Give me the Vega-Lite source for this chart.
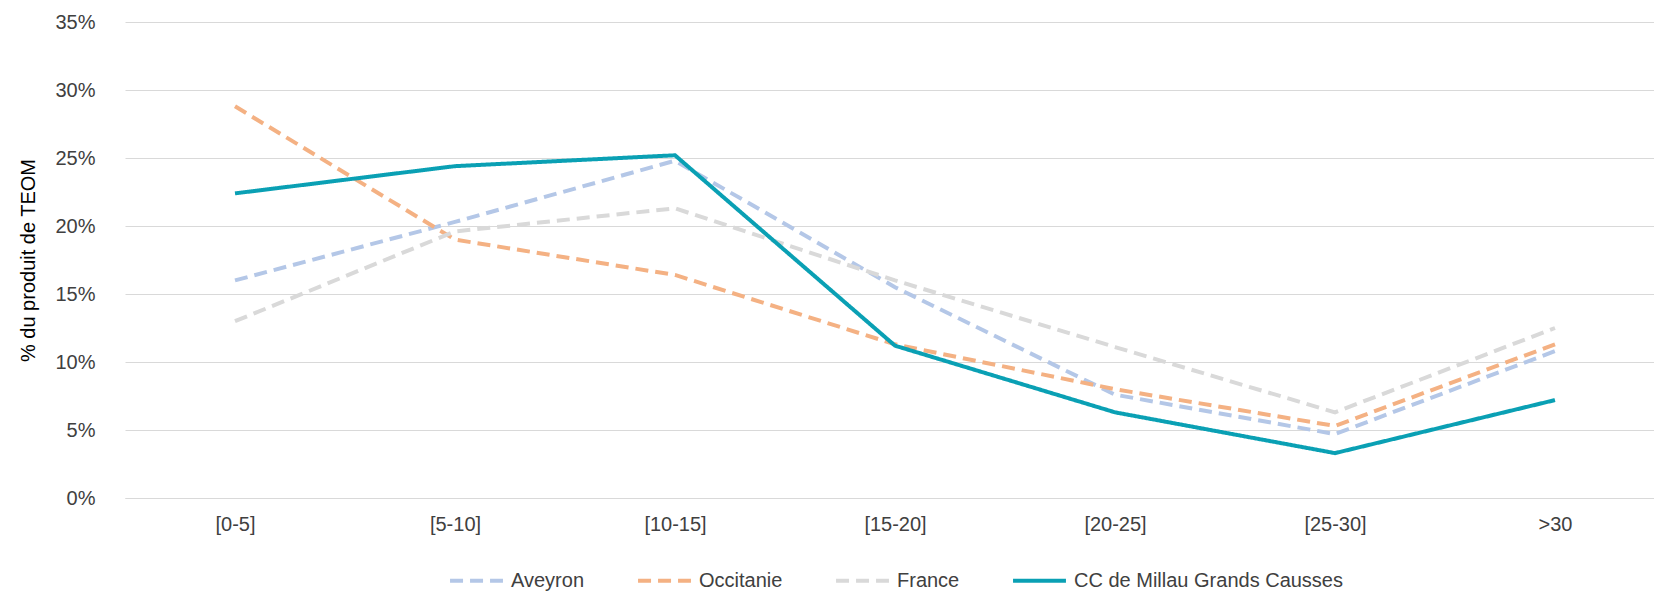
{
"$schema":"https://vega.github.io/schema/vega-lite/v6.json",
"width":1540,"height":476,
"padding":{"left":18,"right":0,"top":12,"bottom":4},
"config":{"font":"Liberation Sans","view":{"stroke":null},"legend":{"layout":{"bottom":{"anchor":"middle"}}}},
"data":{"values":[
{"c":"[0-5]","s":"Aveyron","v":16.0},{"c":"[5-10]","s":"Aveyron","v":20.3},{"c":"[10-15]","s":"Aveyron","v":24.8},{"c":"[15-20]","s":"Aveyron","v":15.5},{"c":"[20-25]","s":"Aveyron","v":7.6},{"c":"[25-30]","s":"Aveyron","v":4.7},{"c":">30","s":"Aveyron","v":10.8},
{"c":"[0-5]","s":"Occitanie","v":28.8},{"c":"[5-10]","s":"Occitanie","v":19.0},{"c":"[10-15]","s":"Occitanie","v":16.4},{"c":"[15-20]","s":"Occitanie","v":11.3},{"c":"[20-25]","s":"Occitanie","v":8.0},{"c":"[25-30]","s":"Occitanie","v":5.3},{"c":">30","s":"Occitanie","v":11.3},
{"c":"[0-5]","s":"France","v":13.0},{"c":"[5-10]","s":"France","v":19.6},{"c":"[10-15]","s":"France","v":21.3},{"c":"[15-20]","s":"France","v":16.0},{"c":"[20-25]","s":"France","v":11.1},{"c":"[25-30]","s":"France","v":6.3},{"c":">30","s":"France","v":12.5},
{"c":"[0-5]","s":"CC de Millau Grands Causses","v":22.4},{"c":"[5-10]","s":"CC de Millau Grands Causses","v":24.4},{"c":"[10-15]","s":"CC de Millau Grands Causses","v":25.2},{"c":"[15-20]","s":"CC de Millau Grands Causses","v":11.2},{"c":"[20-25]","s":"CC de Millau Grands Causses","v":6.3},{"c":"[25-30]","s":"CC de Millau Grands Causses","v":3.3},{"c":">30","s":"CC de Millau Grands Causses","v":7.2}
]},
"mark":{"type":"line"},
"encoding":{
"x":{"field":"c","type":"nominal","sort":null,"title":null,"scale":{"paddingOuter":0.5},
"axis":{"labelAngle":0,"labelFontSize":20,"labelColor":"#404040","labelPadding":16,"domainColor":"#d9d9d9","ticks":false,"grid":false}},
"y":{"field":"v","type":"quantitative","scale":{"domain":[0,35]},"title":"% du produit de TEOM",
"axis":{"values":[0,5,10,15,20,25,30,35],"labelExpr":"datum.value+'%'","labelFontSize":20,"labelColor":"#404040","titleFontSize":20,"titleFontWeight":"normal","titleColor":"#000","titlePadding":16,"domain":false,"ticks":false,"gridColor":"#d9d9d9","labelPadding":30}},
"strokeWidth":{"field":"s","type":"nominal","legend":null,
"scale":{"domain":["Aveyron","Occitanie","France","CC de Millau Grands Causses"],"range":[4,4,4,5.5]}},
"color":{"field":"s","type":"nominal","sort":["Aveyron","Occitanie","France","CC de Millau Grands Causses"],
"scale":{"domain":["Aveyron","Occitanie","France","CC de Millau Grands Causses"],"range":["#b4c7e7","#f4b183","#d9d9d9","#0aa0b4"]},
"legend":{"orient":"bottom","direction":"horizontal","offset":18,"title":null,"labelFontSize":20,"labelColor":"#404040","labelLimit":400,"symbolType":"stroke","symbolStrokeWidth":4.5,"symbolSize":2800,"labelOffset":6,"columnPadding":45}},
"strokeDash":{"field":"s","type":"nominal","legend":null,
"scale":{"domain":["Aveyron","Occitanie","France","CC de Millau Grands Causses"],"range":[[13,7],[13,7],[13,7],[1,0]]}}
}
}
